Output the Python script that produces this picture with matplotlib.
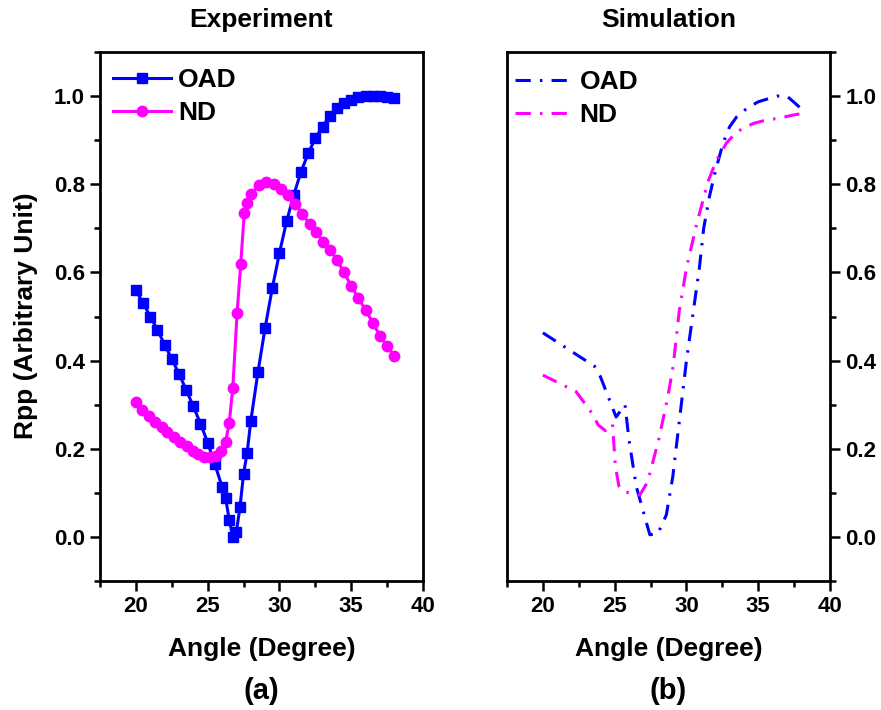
import matplotlib
matplotlib.use("Agg")
import matplotlib.pyplot as plt
from matplotlib.ticker import MultipleLocator, FormatStrFormatter

# ---------------- data ----------------
exp_oad_x = [20.0, 20.5, 21.0, 21.5, 22.0, 22.5, 23.0, 23.5, 24.0, 24.5, 25.0, 25.5,
             26.0, 26.25, 26.5, 26.75, 27.0, 27.25, 27.5, 27.75, 28.0,
             28.5, 29.0, 29.5, 30.0, 30.5, 31.0, 31.5, 32.0, 32.5, 33.0,
             33.5, 34.0, 34.5, 35.0, 35.5, 36.0, 36.5, 37.0, 37.5, 38.0]
exp_oad_y = [0.559, 0.531, 0.500, 0.470, 0.436, 0.404, 0.370, 0.334, 0.296, 0.257, 0.214, 0.165,
             0.114, 0.088, 0.039, 0.000, 0.012, 0.067, 0.143, 0.191, 0.262,
             0.373, 0.474, 0.564, 0.644, 0.716, 0.776, 0.828, 0.870, 0.904, 0.931,
             0.954, 0.972, 0.984, 0.992, 0.997, 1.000, 1.000, 1.000, 0.998, 0.995]

exp_nd_x = [20.0, 20.45, 20.9, 21.35, 21.8, 22.2, 22.65, 23.1, 23.55, 23.95,
            24.35, 24.75, 25.15, 25.55, 25.9, 26.25, 26.5, 26.75, 27.05, 27.3,
            27.55, 27.75, 28.05, 28.55, 29.05, 29.6, 30.1, 30.6, 31.1, 31.6,
            32.1, 32.55, 33.05, 33.55, 34.0, 34.5, 35.0, 35.5, 36.0, 36.5,
            37.0, 37.5, 38.0]
exp_nd_y = [0.305, 0.288, 0.274, 0.261, 0.250, 0.239, 0.227, 0.216, 0.206, 0.196,
            0.188, 0.182, 0.181, 0.184, 0.196, 0.216, 0.258, 0.338, 0.508, 0.618,
            0.735, 0.758, 0.778, 0.798, 0.806, 0.800, 0.790, 0.776, 0.756, 0.732,
            0.710, 0.691, 0.670, 0.651, 0.629, 0.600, 0.569, 0.541, 0.515, 0.486,
            0.456, 0.433, 0.410]

sim_oad_x = [20.0, 23.6, 24.0, 25.1, 25.72, 26.0, 26.5, 27.45, 28.0, 28.6, 29.05,
             29.65, 30.0, 30.45, 30.9, 31.2, 31.6, 32.0, 32.55, 33.0, 33.5, 34.2,
             35.0, 36.3, 37.0, 37.7, 38.1]
sim_oad_y = [0.463, 0.387, 0.364, 0.272, 0.300, 0.220, 0.115, 0.005, 0.007, 0.050, 0.137,
             0.303, 0.400, 0.505, 0.610, 0.700, 0.772, 0.828, 0.893, 0.930, 0.953, 0.972,
             0.987, 1.000, 1.000, 0.980, 0.968]

sim_nd_x = [20.0, 22.3, 23.5, 23.85, 24.35, 24.85, 25.05, 25.3, 25.6, 26.75, 27.3,
            28.1, 28.7, 29.07, 29.5, 30.0, 30.7, 31.5, 32.1, 32.8, 33.5, 34.66,
            35.6, 36.3, 37.6, 38.0]
sim_nd_y = [0.367, 0.330, 0.277, 0.254, 0.241, 0.256, 0.160, 0.115, 0.103, 0.095, 0.125,
            0.225, 0.318, 0.386, 0.513, 0.610, 0.708, 0.806, 0.855, 0.894, 0.919, 0.938,
            0.946, 0.949, 0.958, 0.960]

series_labels = ["OAD", "ND"]
panel_titles = ["Experiment", "Simulation"]
panel_tags = ["(a)", "(b)"]
xlabel = "Angle (Degree)"
ylabel = "Rpp (Arbitrary Unit)"

# ---------------- style ----------------
plt.rcParams['font.family'] = ['Liberation Sans', 'DejaVu Sans']
plt.rcParams['font.weight'] = 'bold'
BLUE = '#0000FF'
MAG = '#FF00FF'
W, H = 881, 710
fig = plt.figure(figsize=(W / 100, H / 100), dpi=100)

def px_axes(x0, y0, x1, y1):
    return fig.add_axes([x0 / W, 1 - y1 / H, (x1 - x0) / W, (y1 - y0) / H])

ax1 = px_axes(100, 52, 423, 581)
ax2 = px_axes(507, 52, 830, 581)

TICK_FS = 16
LAB_FS = 19

for ax in (ax1, ax2):
    ax.set_xlim(17.5, 40)
    ax.set_ylim(-0.1, 1.1)
    ax.xaxis.set_major_locator(MultipleLocator(5))
    ax.xaxis.set_minor_locator(MultipleLocator(2.5))
    ax.yaxis.set_major_locator(MultipleLocator(0.2))
    ax.yaxis.set_minor_locator(MultipleLocator(0.1))
    ax.yaxis.set_major_formatter(FormatStrFormatter('%.1f'))
    for s in ax.spines.values():
        s.set_linewidth(2.0)
    ax.tick_params(which='major', length=7, width=1.8, direction='out', labelsize=TICK_FS, pad=4)
    ax.tick_params(which='minor', length=4, width=1.8, direction='out')
    ax.tick_params(axis='both', top=False)

ax1.tick_params(axis='y', which='both', left=True, right=False)
ax2.tick_params(axis='y', which='both', left=False, right=True, labelleft=False, labelright=True)

# experiment
ax1.plot(exp_oad_x, exp_oad_y, color=BLUE, lw=2.2, marker='s', ms=6.5,
         mfc=BLUE, mec=BLUE, label=series_labels[0])
ax1.plot(exp_nd_x, exp_nd_y, color=MAG, lw=2.2, marker='o', ms=7.5,
         mfc=MAG, mec=MAG, label=series_labels[1])

# simulation
dashdot = (0, (5, 3, 0.8, 3))
ax2.plot(sim_oad_x, sim_oad_y, color=BLUE, lw=2.2, linestyle=dashdot, label=series_labels[0])
ax2.plot(sim_nd_x, sim_nd_y, color=MAG, lw=2.2, linestyle=dashdot, label=series_labels[1])

leg_kw = dict(loc='upper left', frameon=False, handlelength=2.2,
              handletextpad=0.25, labelspacing=0.34, borderaxespad=0.0,
              prop={'weight': 'bold', 'size': LAB_FS})
ax1.legend(bbox_to_anchor=(0.008, 0.99), numpoints=1, **leg_kw)
ax2.legend(bbox_to_anchor=(-0.008, 0.986), **leg_kw)

# texts
for ax, x0, x1, title, tag in ((ax1, 100, 423, panel_titles[0], panel_tags[0]),
                               (ax2, 507, 830, panel_titles[1], panel_tags[1])):
    cx = (x0 + x1) / 2 / W
    fig.text(cx, 1 - 20 / H, title, ha='center', va='center', fontsize=LAB_FS, fontweight='bold')
    fig.text(cx, 1 - 649 / H, xlabel, ha='center', va='center', fontsize=LAB_FS, fontweight='bold')
    fig.text(cx, 1 - 691 / H, tag, ha='center', va='center', fontsize=21, fontweight='bold')

fig.text(26 / W, 1 - 316 / H, ylabel, rotation=90, ha='center', va='center',
         fontsize=LAB_FS, fontweight='bold')

fig.savefig('out.png', dpi=100)
